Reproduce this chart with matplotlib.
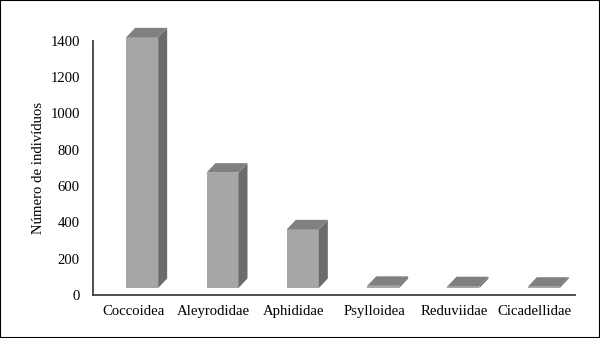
import matplotlib.pyplot as plt
from matplotlib.patches import Polygon, Rectangle

# data
familias = ["Coccoidea", "Aleyrodidae", "Aphididae", "Psylloidea", "Reduviidae", "Cicadellidae"]
individuos = [1380, 635, 323, 12, 10, 7]
y_ticks = [0, 200, 400, 600, 800, 1000, 1200, 1400]

plt.rcParams['font.family'] = ['Liberation Serif', 'DejaVu Serif']

W, H = 600, 338
fig = plt.figure(figsize=(W / 100, H / 100), dpi=100)

# axes box in pixels (left, right, top, bottom)
x0, x1, yt, yb = 93, 575, 40.7, 295
ax = fig.add_axes([x0 / W, (H - yb) / H, (x1 - x0) / W, (yb - yt) / H])
ax.set_xlim(-0.5, len(familias) - 0.5)
ax.set_ylim(0, 1400)

# pixel -> data conversion
ux = len(familias) / (x1 - x0)
uy = 1400 / (yb - yt)

front_col = "#a6a6a6"
side_col = "#6b6b6b"
top_col = "#808080"

off = 9 * ux      # front face shift from category centre
w = 32 * ux       # front face width
dx = 9 * ux       # depth
dy = 9.5 * uy
base = 7 * uy     # bars stand a bit behind the axis line

for i, v in enumerate(individuos):
    xl = i + off - w / 2
    xr = xl + w
    top = base + v
    ax.add_patch(Rectangle((xl, base), w, v, facecolor=front_col, edgecolor="none", clip_on=False))
    ax.add_patch(Polygon([(xr, base), (xr + dx, base + dy), (xr + dx, top + dy), (xr, top)],
                         closed=True, facecolor=side_col, edgecolor="none", clip_on=False))
    ax.add_patch(Polygon([(xl, top), (xr, top), (xr + dx, top + dy), (xl + dx, top + dy)],
                         closed=True, facecolor=top_col, edgecolor="none", clip_on=False))

fs = 10.6
ax.set_xticks(range(len(familias)))
ax.set_xticklabels(familias, fontsize=fs)
ax.set_yticks(y_ticks)
ax.set_yticklabels([str(t) for t in y_ticks], fontsize=fs)
ax.tick_params(axis="both", length=0, colors="black")
ax.tick_params(axis="y", pad=9.5)
ax.tick_params(axis="x", pad=7)

for s in ["top", "right"]:
    ax.spines[s].set_visible(False)
for s in ["left", "bottom"]:
    ax.spines[s].set_color("#404040")
    ax.spines[s].set_linewidth(1.3)

ax.set_ylabel("Número de indivíduos", fontsize=fs)
ax.yaxis.set_label_coords(-(93 - 45) / (x1 - x0), 0.5)

# outer frame of the figure
fig.patches.append(Rectangle((0, 0), 1, 1, transform=fig.transFigure, fill=False,
                             edgecolor="black", linewidth=1.5))

fig.savefig("out.png", dpi=100)
